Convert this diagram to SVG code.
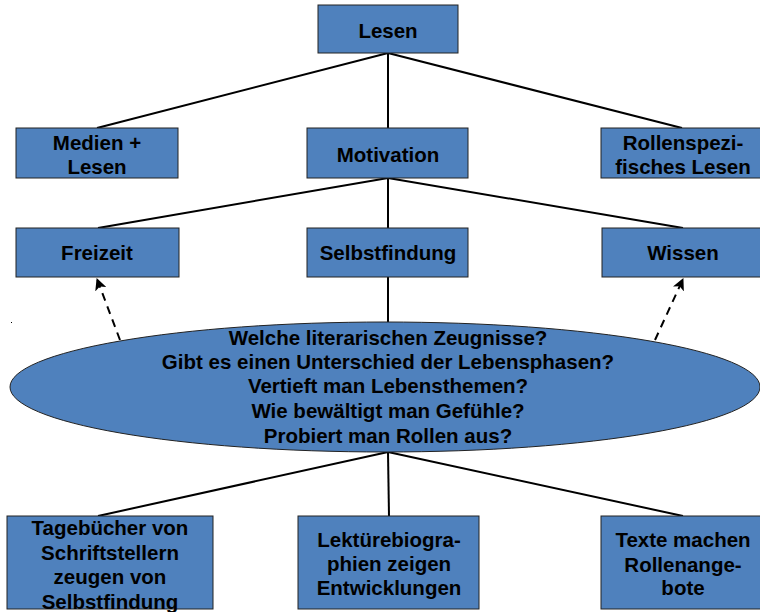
<svg xmlns="http://www.w3.org/2000/svg" width="760" height="612" viewBox="0 0 760 612">
  <style>
    .box { fill: #4f81bd; stroke: #222; stroke-width: 1; }
    .lbl { font-family: "Liberation Sans", Arial, sans-serif; font-weight: bold; font-size: 20.5px; fill: #000; text-anchor: middle; }
    .edge { stroke: #000; stroke-width: 2; fill: none; }
    .dash { stroke: #000; stroke-width: 2; fill: none; stroke-dasharray: 8 6; }
  </style>
  <defs>
    <marker id="arrow" viewBox="0 0 12 12" refX="11" refY="6" markerWidth="12" markerHeight="12" markerUnits="userSpaceOnUse" orient="auto">
      <path d="M0,0 L12,6 L0,12 L3,6 Z" fill="#000"/>
    </marker>
  </defs>
  <rect width="760" height="612" fill="#fff"/>

  <g id="connectors">
    <line class="edge" x1="388" y1="53" x2="97" y2="128"/>
    <line class="edge" x1="388" y1="53" x2="388" y2="128"/>
    <line class="edge" x1="388" y1="53" x2="682" y2="128"/>
    <line class="edge" x1="388" y1="178" x2="98" y2="228"/>
    <line class="edge" x1="388" y1="178" x2="388" y2="228"/>
    <line class="edge" x1="388" y1="178" x2="683" y2="228"/>
    <line class="edge" x1="388" y1="277" x2="388" y2="323"/>
    <line class="edge" x1="388" y1="452" x2="98" y2="516"/>
    <line class="edge" x1="388" y1="452" x2="389" y2="516"/>
    <line class="edge" x1="388" y1="452" x2="683" y2="516"/>
    <line class="dash" x1="120" y1="340" x2="97" y2="279" marker-end="url(#arrow)"/>
    <line class="dash" x1="655" y1="340" x2="683" y2="279" marker-end="url(#arrow)"/>
  </g>

  <g id="lesen">
    <rect class="box" x="318" y="5" width="140" height="48"/>
    <text class="lbl" x="388" y="38">Lesen</text>
  </g>
  <g id="medien">
    <rect class="box" x="16" y="128" width="162" height="50"/>
    <text class="lbl" x="97" y="150">Medien +</text>
    <text class="lbl" x="97" y="174">Lesen</text>
  </g>
  <g id="motivation">
    <rect class="box" x="307" y="128" width="161" height="50"/>
    <text class="lbl" x="388" y="162">Motivation</text>
  </g>
  <g id="rollenspezifisch">
    <rect class="box" x="601" y="128" width="164" height="50"/>
    <text class="lbl" x="683" y="150">Rollenspezi-</text>
    <text class="lbl" x="683" y="174">fisches Lesen</text>
  </g>
  <g id="freizeit">
    <rect class="box" x="16" y="228" width="163" height="49"/>
    <text class="lbl" x="97" y="260">Freizeit</text>
  </g>
  <g id="selbstfindung">
    <rect class="box" x="307" y="228" width="161" height="49"/>
    <text class="lbl" x="388" y="260">Selbstfindung</text>
  </g>
  <g id="wissen">
    <rect class="box" x="602" y="228" width="163" height="49"/>
    <text class="lbl" x="683" y="260">Wissen</text>
  </g>

  <g id="fragen">
    <ellipse class="box" cx="385" cy="387" rx="375" ry="65"/>
    <text class="lbl" x="388" y="345">Welche literarischen Zeugnisse?</text>
    <text class="lbl" x="388" y="369">Gibt es einen Unterschied der Lebensphasen?</text>
    <text class="lbl" x="388" y="393">Vertieft man Lebensthemen?</text>
    <text class="lbl" x="388" y="418">Wie bewältigt man Gefühle?</text>
    <text class="lbl" x="388" y="443">Probiert man Rollen aus?</text>
  </g>
  <rect x="11" y="322" width="1" height="1" fill="#000"/>

  <g id="tagebuecher">
    <rect class="box" x="7" y="516" width="206" height="93"/>
    <text class="lbl" x="110" y="535">Tagebücher von</text>
    <text class="lbl" x="110" y="560">Schriftstellern</text>
    <text class="lbl" x="110" y="584">zeugen von</text>
    <text class="lbl" x="110" y="609">Selbstfindung</text>
  </g>
  <g id="lektuere">
    <rect class="box" x="298" y="516" width="181" height="93"/>
    <text class="lbl" x="389" y="547">Lektürebiogra-</text>
    <text class="lbl" x="389" y="571">phien zeigen</text>
    <text class="lbl" x="389" y="595">Entwicklungen</text>
  </g>
  <g id="rollenangebote">
    <rect class="box" x="601" y="516" width="164" height="93"/>
    <text class="lbl" x="683" y="547">Texte machen</text>
    <text class="lbl" x="683" y="572">Rollenange-</text>
    <text class="lbl" x="683" y="595">bote</text>
  </g>
</svg>
